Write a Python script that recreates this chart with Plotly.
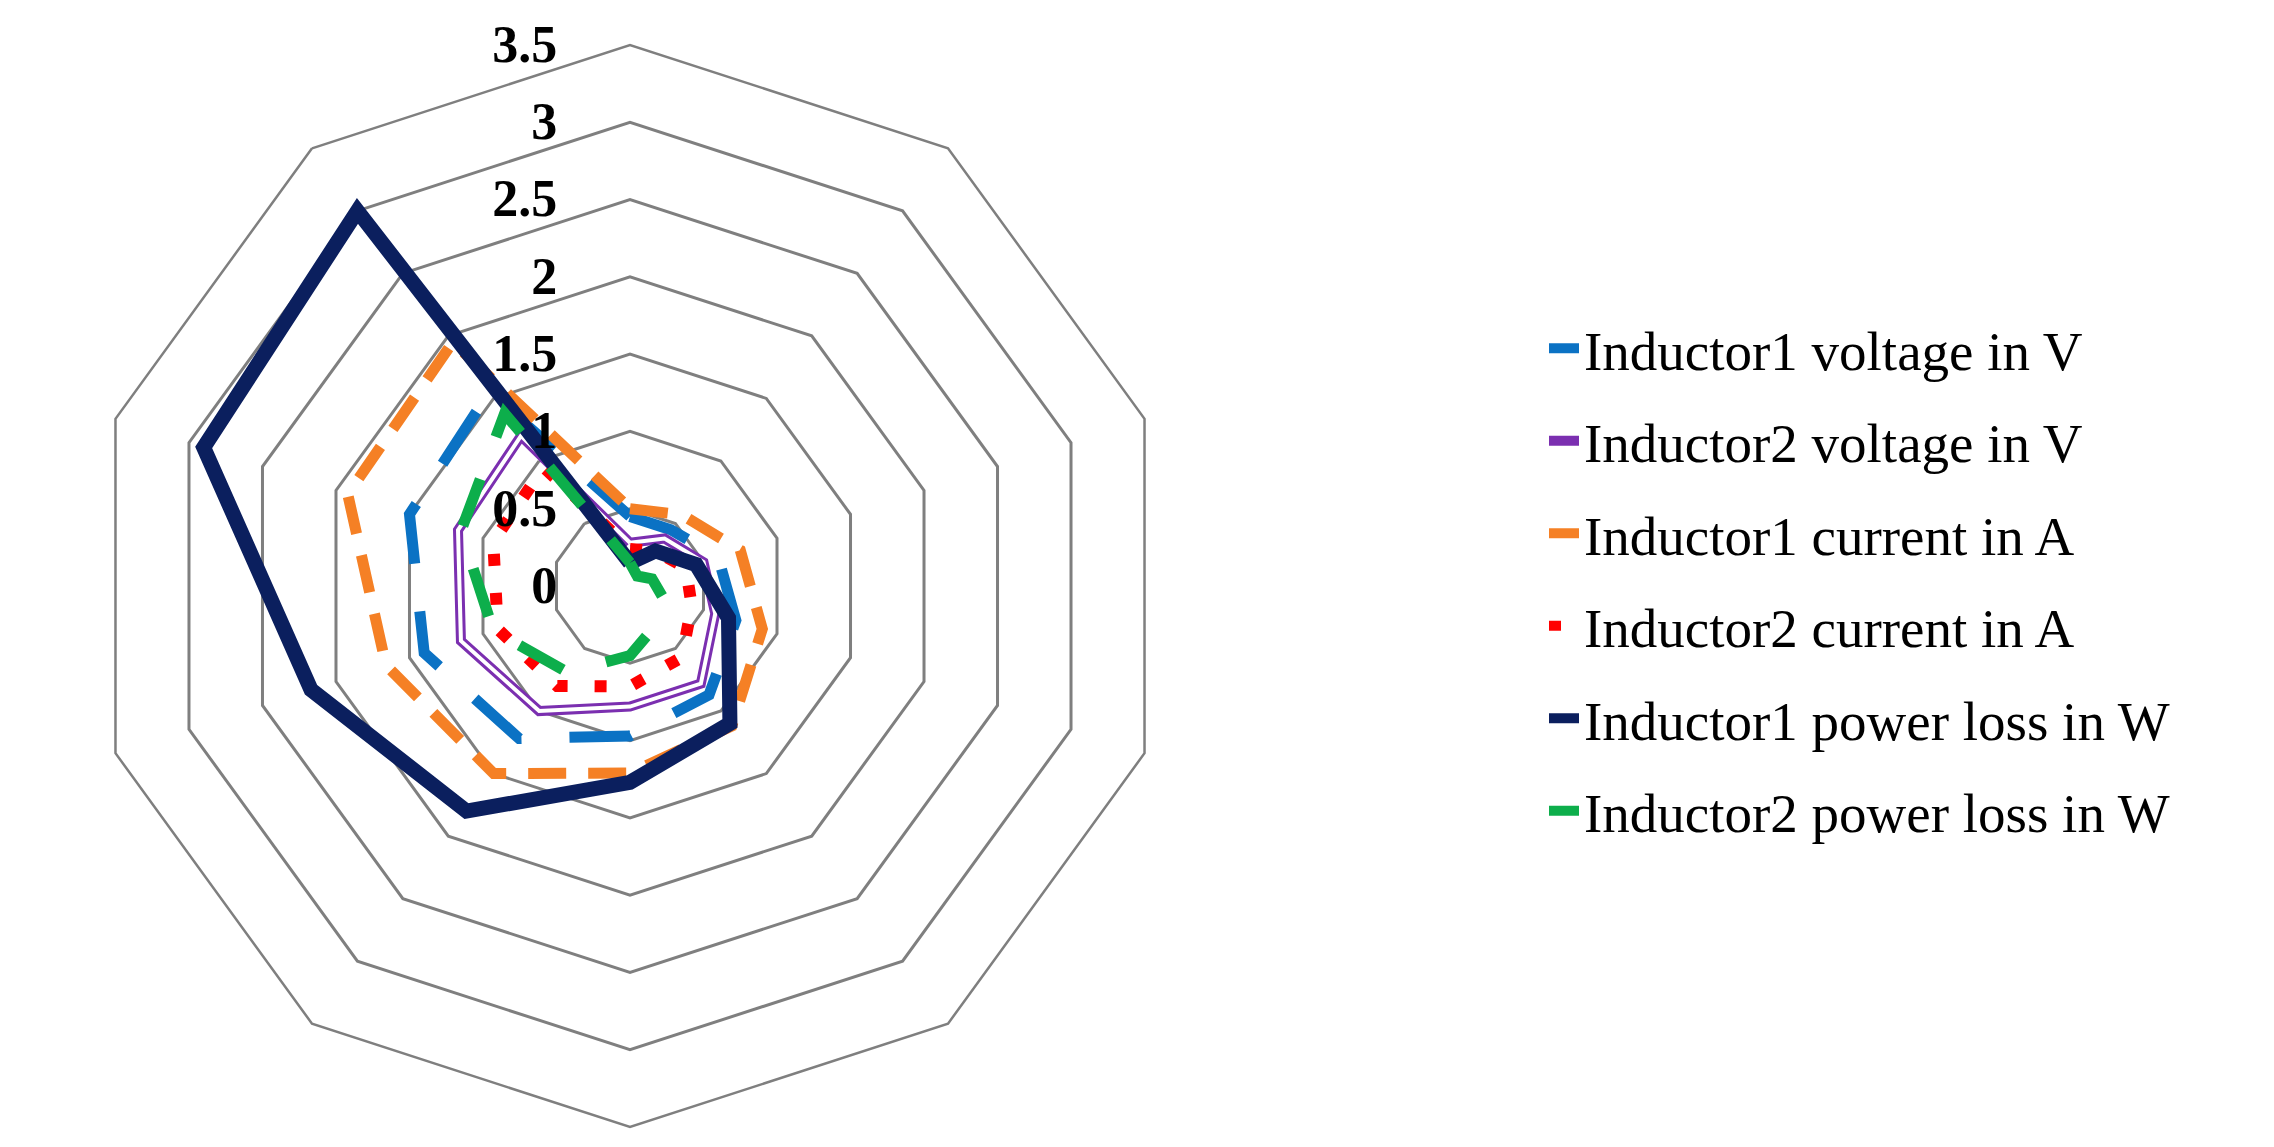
import plotly.graph_objects as go

# ---- data ----
categories = ["1", "2", "3", "4", "5", "6", "7", "8", "9", "10"]

inductor1_voltage = [0.45, 0.45, 0.60, 0.72, 0.87, 0.97, 1.22, 1.40, 1.50, 1.55]
inductor2_voltage = [0.28, 0.38, 0.50, 0.58, 0.78, 0.78, 1.00, 1.15, 1.17, 1.20]
inductor1_current = [0.50, 0.57, 0.75, 0.90, 1.12, 1.21, 1.50, 1.66, 1.92, 1.95]
inductor2_current = [0.24, 0.28, 0.38, 0.42, 0.57, 0.65, 0.80, 0.90, 0.93, 0.95]
inductor1_loss = [0.15, 0.28, 0.45, 0.67, 1.10, 1.27, 1.80, 2.17, 2.90, 3.00]
inductor2_loss = [0.15, 0.08, 0.15, 0.22, 0.30, 0.45, 0.69, 0.93, 1.15, 1.38]

series_names = [
    "Inductor1 voltage in V",
    "Inductor2 voltage in V",
    "Inductor1 current in A",
    "Inductor2 current in A",
    "Inductor1 power loss in W",
    "Inductor2 power loss in W",
]

radial_ticks = [0, 0.5, 1, 1.5, 2, 2.5, 3, 3.5]
radial_tick_text = ["0", "0.5", "1", "1.5", "2", "2.5", "3", "3.5"]


def closed(vals):
    return list(vals) + [vals[0]]


theta = closed(categories)

fig = go.Figure()

fig.add_trace(go.Scatterpolar(
    r=closed(inductor1_voltage), theta=theta, mode="lines",
    name=series_names[0], legendgroup="g1",
    line=dict(color="#0B72C4", width=11, dash="62px,48px"),
))
fig.add_trace(go.Scatterpolar(
    r=closed(inductor2_voltage), theta=theta, mode="lines",
    name=series_names[1], legendgroup="g2",
    line=dict(color="#7B2FB0", width=10),
))
fig.add_trace(go.Scatterpolar(
    r=closed(inductor2_voltage), theta=theta, mode="lines",
    name=series_names[1], legendgroup="g2", showlegend=False,
    line=dict(color="white", width=4),
))
fig.add_trace(go.Scatterpolar(
    r=closed(inductor1_current), theta=theta, mode="lines",
    name=series_names[2], legendgroup="g3",
    line=dict(color="#F58025", width=11, dash="38px,22px"),
))
fig.add_trace(go.Scatterpolar(
    r=closed(inductor2_current), theta=theta, mode="lines",
    name=series_names[3], legendgroup="g4",
    line=dict(color="#FF0000", width=12, dash="12px,27px"),
))
fig.add_trace(go.Scatterpolar(
    r=closed(inductor1_loss), theta=theta, mode="lines",
    name=series_names[4], legendgroup="g5",
    line=dict(color="#0B1F5E", width=15),
))
fig.add_trace(go.Scatterpolar(
    r=closed(inductor2_loss), theta=theta, mode="lines",
    name=series_names[5], legendgroup="g6",
    line=dict(color="#0DAE4B", width=11, dash="50px,45px"),
))

W, H = 2274, 1147
cx, cy, R = 622, 578, 541

fig.update_layout(
    width=W, height=H,
    margin=dict(l=0, r=0, t=0, b=0),
    paper_bgcolor="white",
    plot_bgcolor="white",
    polar=dict(
        domain=dict(x=[(cx - R) / W, (cx + R) / W],
                    y=[(H - cy - R) / H, (H - cy + R) / H]),
        bgcolor="white",
        gridshape="linear",
        angularaxis=dict(
            type="category",
            rotation=90,
            direction="clockwise",
            showgrid=False,
            showticklabels=False,
            ticks="",
            showline=True,
            linecolor="#7F7F7F",
            linewidth=2.5,
        ),
        radialaxis=dict(
            range=[0, 3.5],
            tickvals=radial_ticks,
            ticktext=radial_tick_text,
            angle=90,
            tickangle=90,
            side="counterclockwise",
            showline=False,
            showgrid=True,
            gridcolor="#7F7F7F",
            gridwidth=2.5,
            ticks="outside",
            ticklen=54,
            tickcolor="rgba(0,0,0,0)",
            tickfont=dict(family="Liberation Serif", size=52, color="black", weight="bold"),
        ),
    ),
    legend=dict(
        x=1536 / W, xanchor="left",
        y=(H - 298) / H, yanchor="top",
        font=dict(family="Liberation Serif", size=55, color="black"),
        tracegroupgap=18,
        bgcolor="rgba(0,0,0,0)",
        itemwidth=30,
    ),
    showlegend=True,
)

fig.write_html("out.html")
